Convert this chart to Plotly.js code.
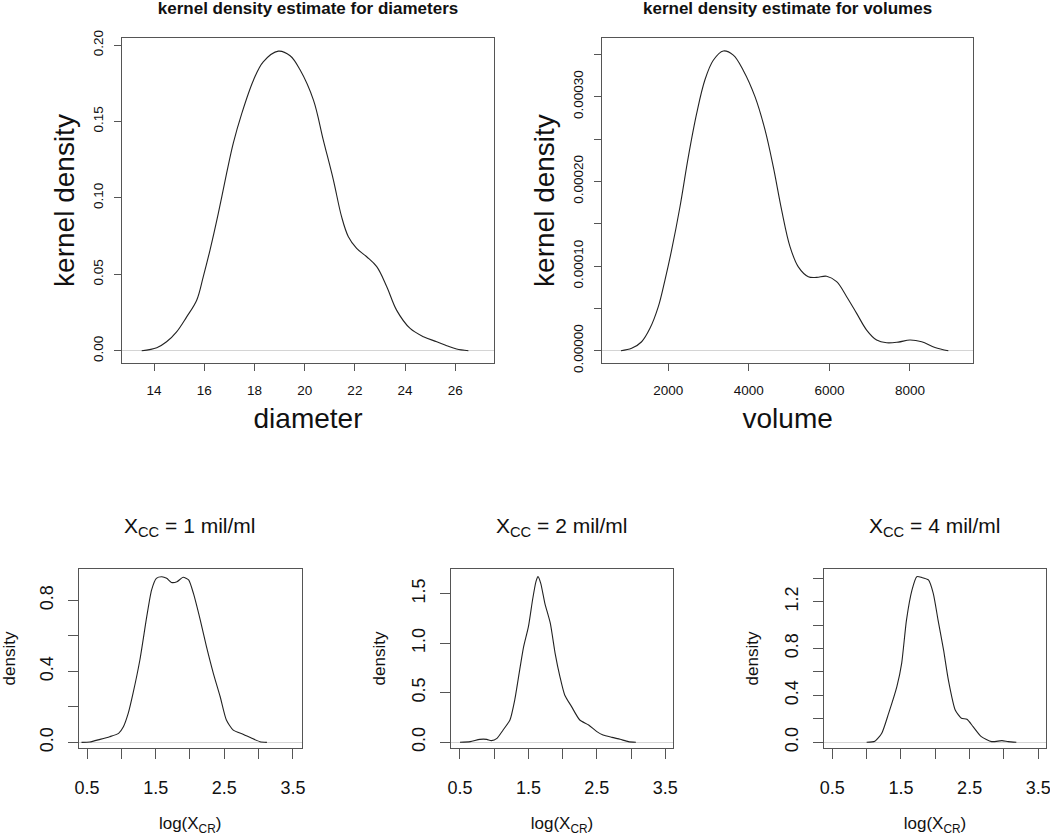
<!DOCTYPE html>
<html><head><meta charset="utf-8">
<script src="https://cdn.plot.ly/plotly-3.0.1.min.js"></script>
<style>html,body{margin:0;padding:0;background:#fff}#chart{width:1050px;height:836px}</style>
</head><body><div id="chart"></div>
<script>
// ---- data: kernel density estimate for diameters ----
const diameterX = [13.51,14.11,14.50,14.90,15.30,15.70,15.96,16.23,16.56,16.89,17.16,17.49,17.96,18.35,18.95,19.42,19.81,20.35,20.74,21.14,21.47,21.74,22.07,22.47,22.87,23.27,23.66,24.20,24.73,25.26,25.66,26.05,26.52];
const diameterY = [0,0.002,0.0059,0.0124,0.0222,0.0331,0.0484,0.0659,0.0899,0.116,0.136,0.155,0.177,0.189,0.196,0.193,0.184,0.164,0.138,0.112,0.0877,0.0746,0.067,0.0615,0.055,0.0419,0.0266,0.0146,0.0092,0.0059,0.0033,0.0011,0];
// ---- data: kernel density estimate for volumes ----
const volumeX = [825,1090,1338,1545,1752,1917,2083,2290,2497,2703,2910,3117,3366,3614,3862,4152,4400,4607,4814,5021,5228,5476,5683,5931,6179,6428,6676,6924,7172,7421,7710,8000,8290,8621,8952];
const volumeY = [0,2.8e-6,1.06e-5,2.64e-5,5.2e-5,8.35e-5,1.19e-4,1.70e-4,2.29e-4,2.80e-4,3.20e-4,3.43e-4,3.54e-4,3.49e-4,3.31e-4,3.00e-4,2.61e-4,2.17e-4,1.66e-4,1.23e-4,9.9e-5,8.74e-5,8.66e-5,8.8e-5,8.15e-5,6.38e-5,4.41e-5,2.44e-5,1.26e-5,9.4e-6,1.02e-5,1.26e-5,1.06e-5,3.9e-6,0];
// ---- data: X_CC = 1 mil/ml ----
const cc1X = [0.42,0.54,0.69,0.83,0.96,1.03,1.10,1.17,1.27,1.37,1.44,1.51,1.59,1.66,1.73,1.81,1.90,1.98,2.05,2.15,2.24,2.34,2.44,2.53,2.63,2.78,2.90,3.02,3.12];
const cc1Y = [0,0.002,0.017,0.032,0.051,0.088,0.163,0.276,0.464,0.708,0.858,0.924,0.933,0.924,0.901,0.905,0.930,0.915,0.839,0.689,0.539,0.389,0.257,0.126,0.069,0.045,0.023,0.004,0];
// ---- data: X_CC = 2 mil/ml ----
const cc2X = [0.50,0.65,0.79,0.89,0.96,1.04,1.13,1.23,1.30,1.38,1.43,1.50,1.56,1.61,1.64,1.68,1.74,1.82,1.89,1.96,2.03,2.13,2.25,2.38,2.50,2.59,2.72,2.84,2.96,3.07];
const cc2Y = [0,0.007,0.03,0.03,0.017,0.04,0.124,0.225,0.427,0.764,0.965,1.167,1.436,1.621,1.672,1.604,1.403,1.201,0.898,0.663,0.478,0.36,0.225,0.175,0.108,0.074,0.05,0.03,0.007,0];
// ---- data: X_CC = 4 mil/ml ----
const cc4X = [1.00,1.12,1.22,1.32,1.44,1.51,1.58,1.66,1.73,1.80,1.90,1.97,2.04,2.12,2.19,2.29,2.38,2.46,2.55,2.67,2.82,2.97,3.06,3.18];
const cc4Y = [0,0.009,0.077,0.247,0.475,0.674,1.043,1.299,1.413,1.407,1.385,1.271,1.043,0.788,0.532,0.276,0.205,0.196,0.134,0.048,0.006,0.014,0.006,0];

// ---- ticks: labelled and unlabelled positions ----
const diameterTicks = [14,16,18,20,22,24,26];
const diameterYTicks = [0,0.05,0.10,0.15,0.20];
const diameterYLabels = ['0.00','0.05','0.10','0.15','0.20'];
const volumeTicks = [2000,4000,6000,8000];
const volumeYTicks = [0,1e-4,2e-4,3e-4];
const volumeYLabels = ['0.00000','0.00010','0.00020','0.00030'];
const volumeYMinor = [5e-5,1.5e-4,2.5e-4,3.5e-4];
const logTicks = [0.5,1.5,2.5,3.5];
const logLabels = ['0.5','1.5','2.5','3.5'];
const logMinor = [1.0,2.0,3.0];
const cc1YTicks = [0,0.4,0.8];
const cc1YLabels = ['0.0','0.4','0.8'];
const cc1YMinor = [0.2,0.6];
const cc2YTicks = [0,0.5,1.0,1.5];
const cc2YLabels = ['0.0','0.5','1.0','1.5'];
const cc4YTicks = [0,0.4,0.8,1.2];
const cc4YLabels = ['0.0','0.4','0.8','1.2'];
const cc4YMinor = [0.2,0.6,1.0,1.4];
const panelTitles = ['kernel density estimate for diameters','kernel density estimate for volumes','X<sub>CC</sub> = 1 mil/ml','X<sub>CC</sub> = 2 mil/ml','X<sub>CC</sub> = 4 mil/ml'];
const topXTitles = ['diameter','volume'];
const topYTitle = 'kernel density';
const bottomXTitle = 'log(X<sub>CR</sub>)';
const bottomYTitle = 'density';

const W = 1050, H = 836;
const FONT = 'Liberation Sans, Arial, Helvetica, sans-serif';
const px = v => v / W;
const py = v => 1 - v / H;
const BOX = '#555';

function minorTicks(vals, len) {
  if (!vals) return undefined;
  return {tickmode:'array', tickvals:vals, ticks:'outside', ticklen:len, tickwidth:1, tickcolor:BOX, showgrid:false};
}
function base(tv, tt, len, size, standoff, title, tsize, tstand, minor) {
  const a = {tickmode:'array', tickvals:tv, ticktext:tt,
    ticks:'outside', ticklen:len, tickwidth:1, tickcolor:BOX, showline:true, mirror:true,
    linecolor:BOX, linewidth:1, showgrid:false, fixedrange:true, ticklabeloverflow:'allow',
    ticklabelstandoff:standoff, tickfont:{family:FONT, size, color:'#111'},
    title:{text:title, standoff:tstand, font:{family:FONT, size:tsize, color:'#111'}}};
  if (minor) a.minor = minorTicks(minor, len);
  return a;
}
function xAxis(l, r, range, anchor, ...rest) {
  return Object.assign(base(...rest), {domain:[px(l), px(r)], range, anchor, zeroline:false});
}
function yAxis(t, b, range, anchor, ...rest) {
  return Object.assign(base(...rest), {domain:[py(b), py(t)], range, anchor, tickangle:-90,
    zeroline:true, zerolinecolor:'#d4d4d4', zerolinewidth:1});
}

const traces = [
  {x:diameterX, y:diameterY, xaxis:'x', yaxis:'y'},
  {x:volumeX, y:volumeY, xaxis:'x2', yaxis:'y2'},
  {x:cc1X, y:cc1Y, xaxis:'x3', yaxis:'y3'},
  {x:cc2X, y:cc2Y, xaxis:'x4', yaxis:'y4'},
  {x:cc4X, y:cc4Y, xaxis:'x5', yaxis:'y5'}
];
traces.forEach((t, i) => {
  t.mode = 'lines'; t.hoverinfo = 'skip'; t.showlegend = false;
  t.line = {color:'#222', width:1.1, shape:'spline', smoothing: i < 2 ? 1 : 0.6};
});

function ann(text, x, y, size) {
  return {text, xref:'paper', yref:'paper', x:px(x), y:py(y), xanchor:'center', yanchor:'middle',
    showarrow:false, font:{family:FONT, size, color:'#111'}};
}

const bTop = 569.3, bBot = 747.7;
const layout = {
  width:W, height:H, margin:{l:0, r:0, t:0, b:0}, paper_bgcolor:'#fff', plot_bgcolor:'#fff', showlegend:false,
  title:{text:'<b>'+panelTitles[0]+'</b>', xref:'paper', yref:'paper', x:px(308), y:py(8), xanchor:'center', yanchor:'middle',
    font:{family:FONT, size:17, color:'#111'}},
  xaxis: xAxis(122, 494, [12.725, 27.54], 'y', diameterTicks, diameterTicks.map(String), 7, 13.5, 8, topXTitles[0], 28, 11),
  yaxis: yAxis(38, 363, [-0.008, 0.2046], 'x', diameterYTicks, diameterYLabels, 7, 13.5, 6, topYTitle, 28, 7),
  xaxis2: xAxis(602, 973.3, [354, 9572], 'y2', volumeTicks, volumeTicks.map(String), 7, 13.5, 8, topXTitles[1], 28, 11),
  yaxis2: yAxis(38, 363, [-1.45e-5, 3.693e-4], 'x2', volumeYTicks, volumeYLabels, 7, 13.5, 6, topYTitle, 28, 7, volumeYMinor),
  xaxis3: xAxis(78.7, 301.7, [0.379, 3.627], 'y3', logTicks, logLabels, 10, 18, 14, bottomXTitle, 17, 21, logMinor),
  yaxis3: yAxis(bTop, bBot, [-0.030, 0.975], 'x3', cc1YTicks, cc1YLabels, 10, 18, 8, bottomYTitle, 17, 21, cc1YMinor),
  xaxis4: xAxis(451.3, 672.7, [0.373, 3.608], 'y4', logTicks, logLabels, 10, 18, 14, bottomXTitle, 17, 21, logMinor),
  yaxis4: yAxis(bTop, bBot, [-0.0545, 1.746], 'x4', cc2YTicks, cc2YLabels, 10, 18, 8, bottomYTitle, 17, 19),
  xaxis5: xAxis(824, 1046, [0.379, 3.612], 'y5', logTicks, logLabels, 10, 18, 14, bottomXTitle, 17, 21, logMinor),
  yaxis5: yAxis(bTop, bBot, [-0.046, 1.476], 'x5', cc4YTicks, cc4YLabels, 10, 18, 8, bottomYTitle, 17, 18, cc4YMinor),
  annotations: [
    ann('<b>'+panelTitles[1]+'</b>', 787, 8, 17),
    ann(panelTitles[2], 190, 527, 21),
    ann(panelTitles[3], 562, 527, 21),
    ann(panelTitles[4], 935, 527, 21)
  ]
};
Plotly.newPlot('chart', traces, layout, {displayModeBar:false, staticPlot:true});
</script>
</body></html>
